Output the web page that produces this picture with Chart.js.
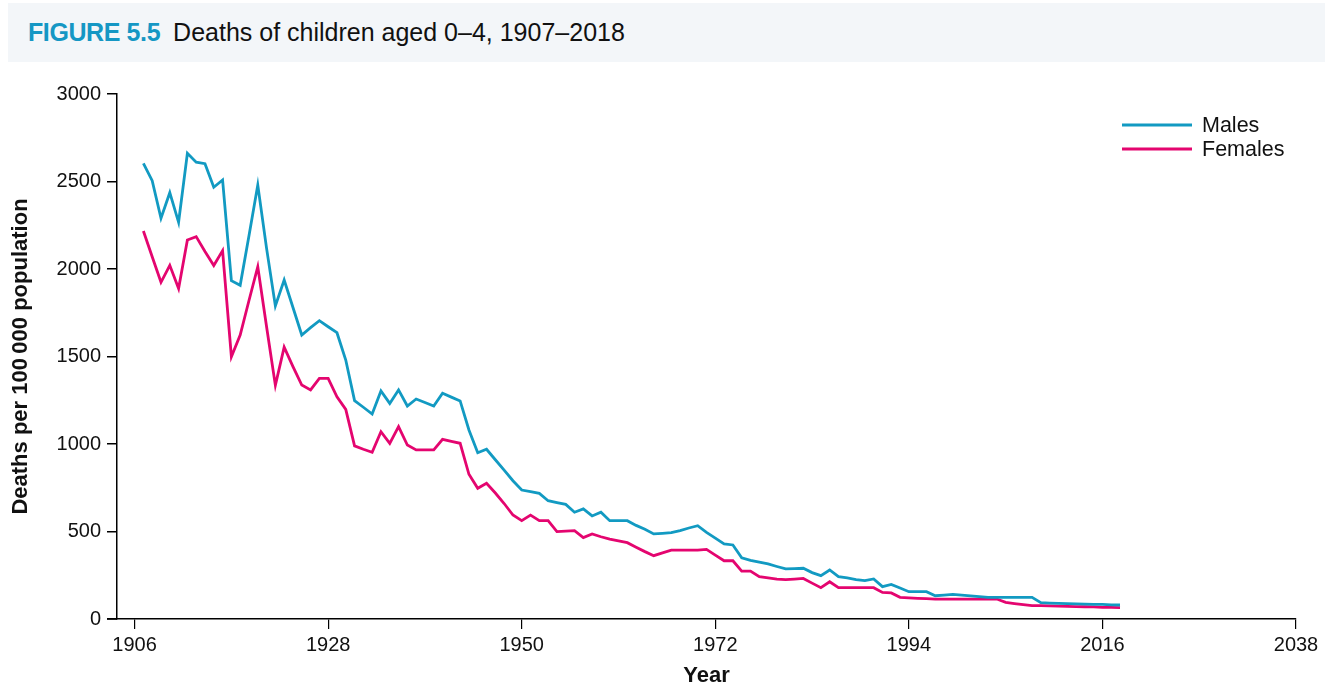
<!DOCTYPE html>
<html>
<head>
<meta charset="utf-8">
<script src="https://cdn.jsdelivr.net/npm/chart.js@4.4.1/dist/chart.umd.min.js"></script>
<style>
  html, body { margin: 0; padding: 0; background: #fff; }
  #wrap { position: relative; width: 1331px; height: 687px; }
  #cabecera {
    position: absolute; left: 8px; top: 3px; width: 1317px; height: 59px;
    background: #f3f6f9; line-height: 59px; font-family: "Liberation Sans", Arial, sans-serif;
    font-size: 25px; color: #111; padding-left: 20px; box-sizing: border-box;
  }
  #cabecera b { color: #1597c4; margin-right: 6px; letter-spacing: -0.4px; }
  canvas { position: absolute; left: 0; top: 0; }
</style>
</head>
<body>
<div id="wrap">
  <canvas id="grafico" width="1331" height="687"></canvas>
  <div id="cabecera"><b>FIGURE 5.5</b> Deaths of children aged 0–4, 1907–2018</div>
</div>
<script>
// --- DATOS ---
const years = [];
for (let y = 1907; y <= 2018; y++) years.push(y);

const males = [
  2604, 2505, 2290, 2436, 2267, 2661, 2610, 2602, 2467, 2509,
  1933, 1907, 2190, 2480, 2118, 1789, 1937, 1780, 1623, 1665,
  1705, 1670, 1636, 1480, 1248, 1210, 1171, 1303, 1232, 1309,
  1217, 1257, 1237, 1217, 1290, 1268, 1246, 1080, 950, 970,
  910, 851, 790, 737, 728, 718, 676, 665, 655, 610,
  629, 589, 610, 562, 562, 562, 535, 513, 486, 489,
  493, 505, 520, 533, 495, 462, 429, 423, 350, 335,
  325, 315, 300, 286, 288, 290, 265, 248, 280, 242,
  235, 225, 219, 229, 185, 198, 177, 156, 156, 156,
  133, 137, 141, 136, 132, 128, 124, 124, 124, 124,
  124, 124, 93, 91, 89, 88, 86, 85, 84, 83,
  81, 80
];

const females = [
  2217, 2070, 1924, 2021, 1888, 2166, 2185, 2100, 2020, 2105,
  1499, 1623, 1820, 2013, 1670, 1335, 1553, 1442, 1337, 1309,
  1375, 1375, 1270, 1198, 989, 970, 953, 1070, 1004, 1099,
  994, 966, 966, 966, 1027, 1015, 1004, 827, 747, 775,
  720, 660, 594, 562, 594, 562, 562, 499, 502, 505,
  465, 486, 470, 457, 446, 436, 410, 385, 362, 378,
  394, 394, 394, 394, 398, 365, 333, 333, 274, 274,
  242, 235, 228, 225, 228, 232, 205, 179, 213, 179,
  179, 179, 179, 179, 152, 149, 124, 121, 118, 116,
  114, 114, 114, 114, 114, 114, 114, 114, 95, 88,
  82, 77, 76, 75, 74, 72, 71, 70, 69, 67,
  66, 65
];

const xTicks = [1906, 1928, 1950, 1972, 1994, 2016, 2038];
const yTicks = [0, 500, 1000, 1500, 2000, 2500, 3000];

const seriesNames = ['Males', 'Females'];
const seriesColors = ['#129ac2', '#e4056f'];

const FUENTE = '"Liberation Sans", Arial, sans-serif';

// leyenda dibujada dentro del area del grafico, arriba a la derecha
const leyendaPlugin = {
  id: 'leyenda',
  afterDraw(chart) {
    const ctx = chart.ctx;
    ctx.save();
    chart.data.datasets.forEach((ds, i) => {
      const y = 125 + i * 24;
      ctx.strokeStyle = ds.borderColor;
      ctx.lineWidth = 2.8;
      ctx.beginPath();
      ctx.moveTo(1122, y);
      ctx.lineTo(1192, y);
      ctx.stroke();
      ctx.fillStyle = '#111';
      ctx.font = '21.5px ' + FUENTE;
      ctx.textBaseline = 'middle';
      ctx.fillText(ds.label, 1202, y + 1);
    });
    // el eje x sobresale un poco a la izquierda del eje y
    const a = chart.chartArea;
    ctx.strokeStyle = '#000';
    ctx.lineWidth = 1.5;
    ctx.beginPath();
    ctx.moveTo(107, a.bottom);
    ctx.lineTo(a.left, a.bottom);
    ctx.stroke();
    ctx.restore();
  }
};

const datasets = [males, females].map((serie, i) => ({
  label: seriesNames[i],
  data: years.map((y, j) => ({ x: y, y: serie[j] })),
  borderColor: seriesColors[i],
  borderWidth: 2.8,
  pointRadius: 0,
  tension: 0,
  fill: false
}));

new Chart(document.getElementById('grafico'), {
  type: 'line',
  data: { datasets },
  options: {
    responsive: false,
    animation: false,
    events: [],
    layout: { padding: { top: 94, right: 35, bottom: 0, left: 0 } },
    plugins: { legend: { display: false }, tooltip: { enabled: false } },
    scales: {
      x: {
        type: 'linear',
        min: 1904,
        max: 2038,
        afterBuildTicks: (s) => { s.ticks = xTicks.map(v => ({ value: v })); },
        afterFit: (s) => { s.height = 68; },
        grid: { drawOnChartArea: false, drawTicks: true, tickLength: 10, color: '#000', lineWidth: 1.2 },
        border: { display: true, color: '#000', width: 1.5 },
        ticks: { color: '#111', font: { family: FUENTE, size: 20 }, padding: 4, maxRotation: 0, callback: v => String(v) },
        title: { display: true, text: 'Year', color: '#111', font: { family: FUENTE, size: 22, weight: 'bold', lineHeight: 1 }, padding: { top: 0, bottom: 0 } }
      },
      y: {
        min: 0,
        max: 3000,
        afterBuildTicks: (s) => { s.ticks = yTicks.map(v => ({ value: v })); },
        afterFit: (s) => { s.width = 117; },
        grid: { drawOnChartArea: false, drawTicks: true, tickLength: 10, color: '#000', lineWidth: 1.5 },
        border: { display: true, color: '#000', width: 1.5 },
        ticks: { color: '#111', font: { family: FUENTE, size: 20 }, padding: 6, callback: v => String(v) },
        title: { display: true, text: 'Deaths per 100\u2009000 population', color: '#111', font: { family: FUENTE, size: 22, weight: 'bold', lineHeight: 1 }, padding: { top: 10, bottom: 0 } }
      }
    }
  },
  plugins: [leyendaPlugin]
});
</script>
</body>
</html>
